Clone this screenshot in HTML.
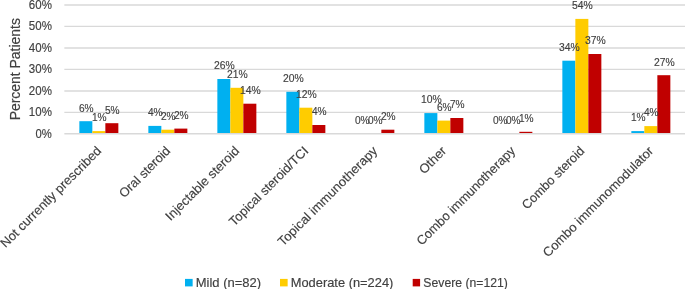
<!DOCTYPE html>
<html><head><meta charset="utf-8"><style>
html,body{margin:0;padding:0;background:#fff;width:685px;height:289px;overflow:hidden}
svg{display:block;will-change:transform}
.t text{font-family:"Liberation Sans", sans-serif;fill:#404040;stroke:#404040;stroke-width:0.15px}
</style></head><body>
<svg width="685" height="289" viewBox="0 0 685 289">
<rect width="685" height="289" fill="#fff"/>
<line x1="64.35" y1="112.30" x2="686" y2="112.30" stroke="#D9D9D9" stroke-width="1.3"/>
<line x1="64.35" y1="91.00" x2="686" y2="91.00" stroke="#D9D9D9" stroke-width="1.3"/>
<line x1="64.35" y1="69.30" x2="686" y2="69.30" stroke="#D9D9D9" stroke-width="1.3"/>
<line x1="64.35" y1="48.00" x2="686" y2="48.00" stroke="#D9D9D9" stroke-width="1.3"/>
<line x1="64.35" y1="26.30" x2="686" y2="26.30" stroke="#D9D9D9" stroke-width="1.3"/>
<line x1="64.35" y1="5.00" x2="686" y2="5.00" stroke="#D9D9D9" stroke-width="1.3"/>
<rect x="79.35" y="121.20" width="13.0" height="12.30" fill="#00B0F0"/>
<rect x="92.35" y="131.10" width="13.0" height="2.40" fill="#FFCC00"/>
<rect x="105.35" y="123.20" width="13.0" height="10.30" fill="#C00000"/>
<rect x="148.35" y="125.90" width="13.0" height="7.60" fill="#00B0F0"/>
<rect x="161.35" y="129.70" width="13.0" height="3.80" fill="#FFCC00"/>
<rect x="174.35" y="128.60" width="13.0" height="4.90" fill="#C00000"/>
<rect x="217.35" y="79.00" width="13.0" height="54.50" fill="#00B0F0"/>
<rect x="230.35" y="87.80" width="13.0" height="45.70" fill="#FFCC00"/>
<rect x="243.35" y="103.70" width="13.0" height="29.80" fill="#C00000"/>
<rect x="286.35" y="91.80" width="13.0" height="41.70" fill="#00B0F0"/>
<rect x="299.35" y="107.70" width="13.0" height="25.80" fill="#FFCC00"/>
<rect x="312.35" y="125.00" width="13.0" height="8.50" fill="#C00000"/>
<rect x="381.35" y="129.70" width="13.0" height="3.80" fill="#C00000"/>
<rect x="424.35" y="113.10" width="13.0" height="20.40" fill="#00B0F0"/>
<rect x="437.35" y="120.60" width="13.0" height="12.90" fill="#FFCC00"/>
<rect x="450.35" y="118.00" width="13.0" height="15.50" fill="#C00000"/>
<rect x="519.35" y="131.80" width="13.0" height="1.70" fill="#C00000"/>
<rect x="562.35" y="60.70" width="13.0" height="72.80" fill="#00B0F0"/>
<rect x="575.35" y="18.90" width="13.0" height="114.60" fill="#FFCC00"/>
<rect x="588.35" y="54.00" width="13.0" height="79.50" fill="#C00000"/>
<rect x="631.35" y="131.10" width="13.0" height="2.40" fill="#00B0F0"/>
<rect x="644.35" y="126.10" width="13.0" height="7.40" fill="#FFCC00"/>
<rect x="657.35" y="75.20" width="13.0" height="58.30" fill="#C00000"/>
<line x1="64.35" y1="133.75" x2="686" y2="133.75" stroke="#D9D9D9" stroke-width="1.3"/>
<g class="t">
<text x="51.9" y="137.55" text-anchor="end" font-size="12.3" textLength="16.29" lengthAdjust="spacingAndGlyphs">0%</text>
<text x="51.9" y="116.10" text-anchor="end" font-size="12.3" textLength="23.05" lengthAdjust="spacingAndGlyphs">10%</text>
<text x="51.9" y="94.80" text-anchor="end" font-size="12.3" textLength="23.05" lengthAdjust="spacingAndGlyphs">20%</text>
<text x="51.9" y="73.10" text-anchor="end" font-size="12.3" textLength="23.05" lengthAdjust="spacingAndGlyphs">30%</text>
<text x="51.9" y="51.80" text-anchor="end" font-size="12.3" textLength="23.05" lengthAdjust="spacingAndGlyphs">40%</text>
<text x="51.9" y="30.10" text-anchor="end" font-size="12.3" textLength="23.05" lengthAdjust="spacingAndGlyphs">50%</text>
<text x="51.9" y="8.80" text-anchor="end" font-size="12.3" textLength="23.05" lengthAdjust="spacingAndGlyphs">60%</text>
<text x="86.25" y="111.50" text-anchor="middle" font-size="11.2" textLength="14.66" lengthAdjust="spacingAndGlyphs">6%</text>
<text x="99.25" y="121.40" text-anchor="middle" font-size="11.2" textLength="14.66" lengthAdjust="spacingAndGlyphs">1%</text>
<text x="112.25" y="113.50" text-anchor="middle" font-size="11.2" textLength="14.66" lengthAdjust="spacingAndGlyphs">5%</text>
<text x="155.25" y="116.20" text-anchor="middle" font-size="11.2" textLength="14.66" lengthAdjust="spacingAndGlyphs">4%</text>
<text x="168.25" y="120.00" text-anchor="middle" font-size="11.2" textLength="14.66" lengthAdjust="spacingAndGlyphs">2%</text>
<text x="181.25" y="118.90" text-anchor="middle" font-size="11.2" textLength="14.66" lengthAdjust="spacingAndGlyphs">2%</text>
<text x="224.25" y="69.30" text-anchor="middle" font-size="11.2" textLength="20.74" lengthAdjust="spacingAndGlyphs">26%</text>
<text x="237.25" y="78.10" text-anchor="middle" font-size="11.2" textLength="20.74" lengthAdjust="spacingAndGlyphs">21%</text>
<text x="250.25" y="94.00" text-anchor="middle" font-size="11.2" textLength="20.74" lengthAdjust="spacingAndGlyphs">14%</text>
<text x="293.25" y="82.10" text-anchor="middle" font-size="11.2" textLength="20.74" lengthAdjust="spacingAndGlyphs">20%</text>
<text x="306.25" y="98.00" text-anchor="middle" font-size="11.2" textLength="20.74" lengthAdjust="spacingAndGlyphs">12%</text>
<text x="319.25" y="115.30" text-anchor="middle" font-size="11.2" textLength="14.66" lengthAdjust="spacingAndGlyphs">4%</text>
<text x="362.25" y="123.80" text-anchor="middle" font-size="11.2" textLength="14.66" lengthAdjust="spacingAndGlyphs">0%</text>
<text x="375.25" y="123.80" text-anchor="middle" font-size="11.2" textLength="14.66" lengthAdjust="spacingAndGlyphs">0%</text>
<text x="388.25" y="120.00" text-anchor="middle" font-size="11.2" textLength="14.66" lengthAdjust="spacingAndGlyphs">2%</text>
<text x="431.25" y="103.40" text-anchor="middle" font-size="11.2" textLength="20.74" lengthAdjust="spacingAndGlyphs">10%</text>
<text x="444.25" y="110.90" text-anchor="middle" font-size="11.2" textLength="14.66" lengthAdjust="spacingAndGlyphs">6%</text>
<text x="457.25" y="108.30" text-anchor="middle" font-size="11.2" textLength="14.66" lengthAdjust="spacingAndGlyphs">7%</text>
<text x="500.25" y="123.80" text-anchor="middle" font-size="11.2" textLength="14.66" lengthAdjust="spacingAndGlyphs">0%</text>
<text x="513.25" y="123.80" text-anchor="middle" font-size="11.2" textLength="14.66" lengthAdjust="spacingAndGlyphs">0%</text>
<text x="526.25" y="122.10" text-anchor="middle" font-size="11.2" textLength="14.66" lengthAdjust="spacingAndGlyphs">1%</text>
<text x="569.25" y="51.00" text-anchor="middle" font-size="11.2" textLength="20.74" lengthAdjust="spacingAndGlyphs">34%</text>
<text x="582.25" y="9.20" text-anchor="middle" font-size="11.2" textLength="20.74" lengthAdjust="spacingAndGlyphs">54%</text>
<text x="595.25" y="44.30" text-anchor="middle" font-size="11.2" textLength="20.74" lengthAdjust="spacingAndGlyphs">37%</text>
<text x="638.25" y="121.40" text-anchor="middle" font-size="11.2" textLength="14.66" lengthAdjust="spacingAndGlyphs">1%</text>
<text x="651.25" y="116.40" text-anchor="middle" font-size="11.2" textLength="14.66" lengthAdjust="spacingAndGlyphs">4%</text>
<text x="664.25" y="65.50" text-anchor="middle" font-size="11.2" textLength="20.74" lengthAdjust="spacingAndGlyphs">27%</text>
<text transform="translate(102.15,151.70) rotate(-45)" text-anchor="end" font-size="12.8" textLength="136.59" lengthAdjust="spacingAndGlyphs">Not currently prescribed</text>
<text transform="translate(171.15,151.70) rotate(-45)" text-anchor="end" font-size="12.8" textLength="66.32" lengthAdjust="spacingAndGlyphs">Oral steroid</text>
<text transform="translate(240.15,151.70) rotate(-45)" text-anchor="end" font-size="12.8" textLength="98.38" lengthAdjust="spacingAndGlyphs">Injectable steroid</text>
<text transform="translate(309.15,151.70) rotate(-45)" text-anchor="end" font-size="12.8" textLength="106.00" lengthAdjust="spacingAndGlyphs">Topical steroid/TCI</text>
<text transform="translate(378.15,151.70) rotate(-45)" text-anchor="end" font-size="12.8" textLength="134.45" lengthAdjust="spacingAndGlyphs">Topical immunotherapy</text>
<text transform="translate(447.15,151.70) rotate(-45)" text-anchor="end" font-size="12.8" textLength="32.48" lengthAdjust="spacingAndGlyphs">Other</text>
<text transform="translate(516.15,151.70) rotate(-45)" text-anchor="end" font-size="12.8" textLength="133.50" lengthAdjust="spacingAndGlyphs">Combo immunotherapy</text>
<text transform="translate(585.15,151.70) rotate(-45)" text-anchor="end" font-size="12.8" textLength="82.30" lengthAdjust="spacingAndGlyphs">Combo steroid</text>
<text transform="translate(654.15,151.70) rotate(-45)" text-anchor="end" font-size="12.8" textLength="150.09" lengthAdjust="spacingAndGlyphs">Combo immunomodulator</text>
<text transform="translate(20.1,119.2) rotate(-90)" x="-1.14" font-size="14" textLength="102.20" lengthAdjust="spacingAndGlyphs">Percent Patients</text>
<rect x="185.0" y="278.9" width="7.65" height="7.5" fill="#00B0F0"/>
<text x="195.73" y="286.6" font-size="12.2" textLength="65.37" lengthAdjust="spacingAndGlyphs">Mild (n=82)</text>
<rect x="280.0" y="278.9" width="7.65" height="7.5" fill="#FFCC00"/>
<text x="290.74" y="286.6" font-size="12.2" textLength="102.65" lengthAdjust="spacingAndGlyphs">Moderate (n=224)</text>
<rect x="412.7" y="278.9" width="7.40" height="7.5" fill="#C00000"/>
<text x="423.35" y="286.6" font-size="12.2" textLength="84.51" lengthAdjust="spacingAndGlyphs">Severe (n=121)</text>
</g>
</svg>
</body></html>
